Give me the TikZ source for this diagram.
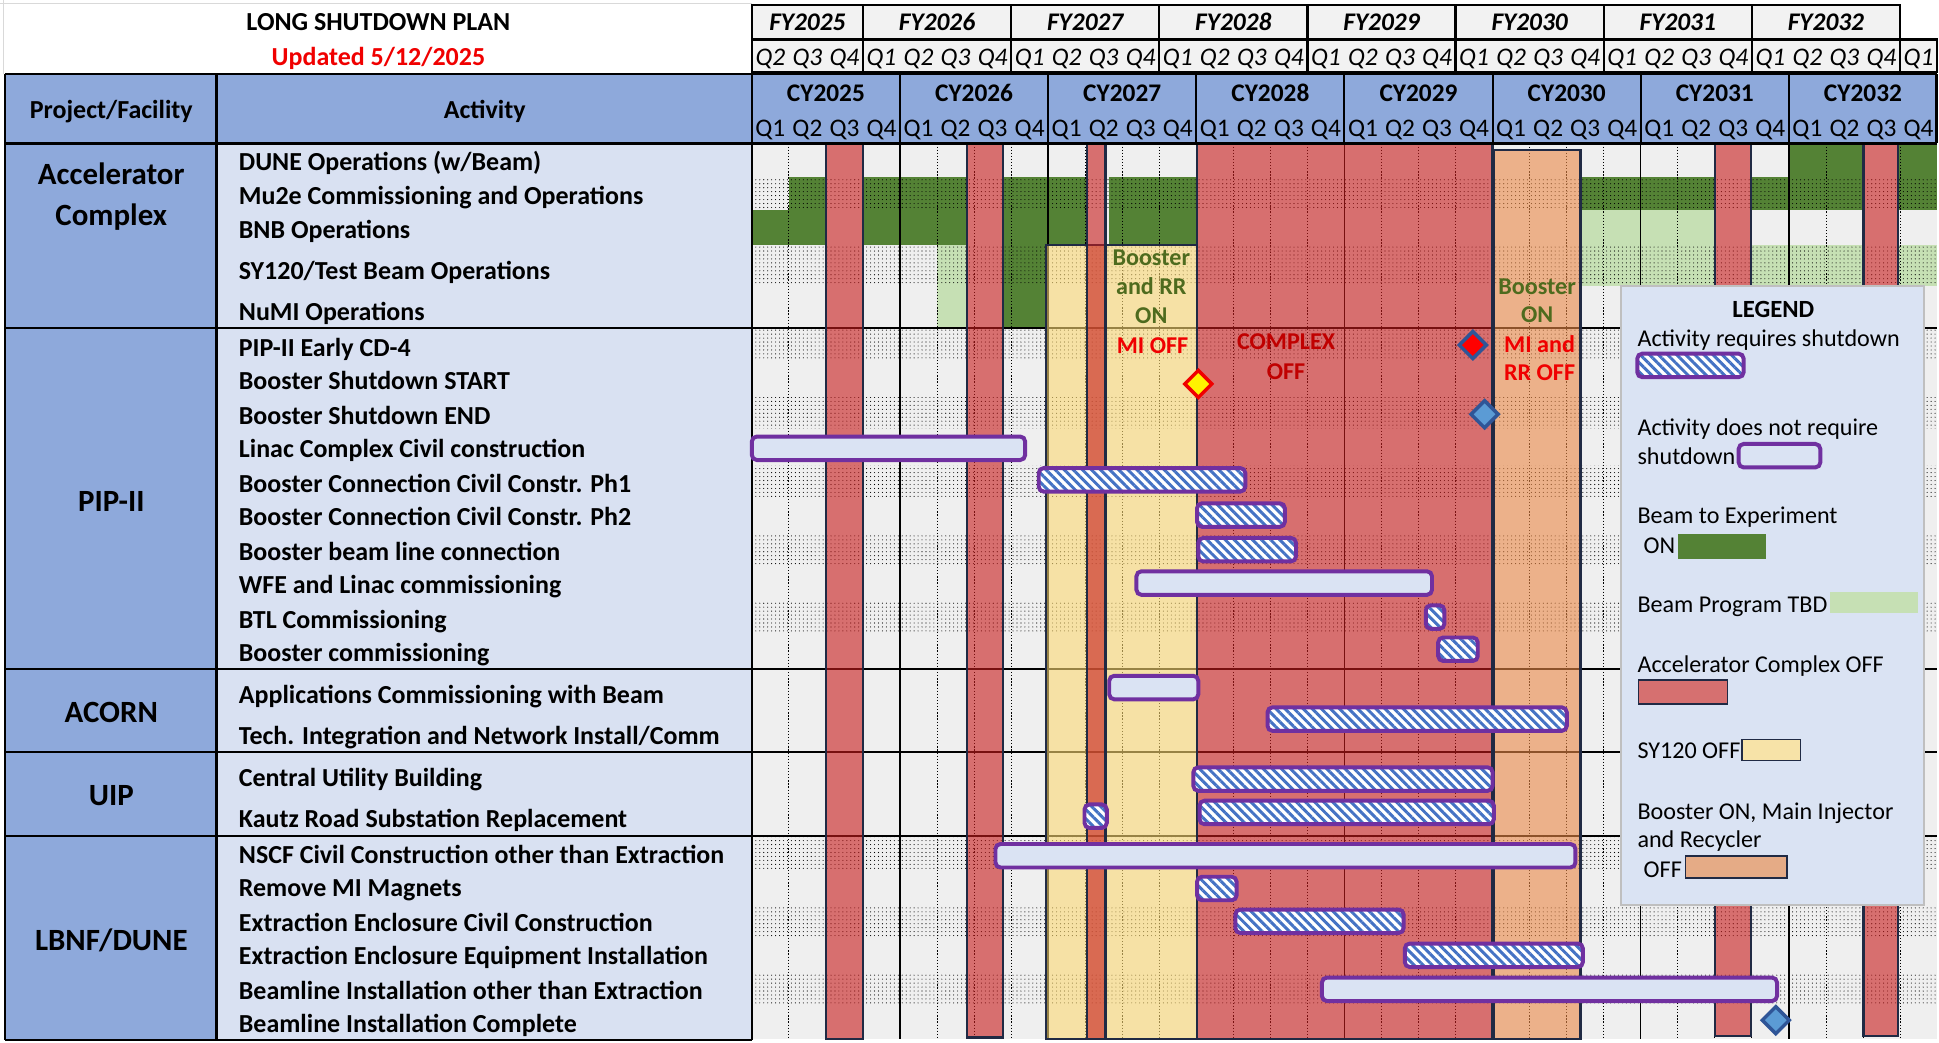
\documentclass[tikz,border=0pt]{standalone}
\usepackage{fontspec}
\setmainfont{Carlito}
\usetikzlibrary{patterns,patterns.meta,shapes.geometric}
\definecolor{hdrblue}{HTML}{8EA9DB}
\definecolor{actbg}{HTML}{D9E1F2}
\definecolor{gridbg}{HTML}{EFEFEF}
\definecolor{fyfill}{HTML}{F2F2F2}
\definecolor{beamon}{HTML}{548235}
\definecolor{beamtbd}{HTML}{C6E0B4}
\definecolor{offred}{RGB}{199,27,27}
\definecolor{offyel}{RGB}{252,217,116}
\definecolor{offora}{RGB}{234,137,71}
\definecolor{navy}{RGB}{32,42,68}
\definecolor{barpur}{HTML}{7030A0}
\definecolor{barfill}{HTML}{DAE3F3}
\definecolor{hatchblue}{HTML}{4472C4}
\definecolor{olivetxt}{RGB}{78,107,30}
\definecolor{legred}{RGB}{214,112,112}
\definecolor{legyel}{RGB}{247,227,168}
\definecolor{legora}{RGB}{229,171,134}
\definecolor{legbg}{HTML}{DAE3F3}
\definecolor{diablue}{HTML}{2F5597}
\definecolor{dialight}{HTML}{5B9BD5}
\definecolor{brightred}{RGB}{240,0,0}
\definecolor{darkred}{RGB}{192,0,0}
\newcommand\myfs[1]{\fontsize{#1}{#1}\selectfont}
\newcommand\hatchbox[3]{\draw[hatchbar] (#1,{#3-9.5}) rectangle (#2,{#3+9.5});}
\newcommand\plainbox[3]{\draw[plainbar] (#1,{#3-9.5}) rectangle (#2,{#3+9.5});}
\tikzset{
  offzone/.style={fill=#1, fill opacity=0.6, draw=navy, draw opacity=1, line width=1.8pt},
  hatchbar/.style={draw=barpur, line width=3.2pt, rounded corners=4pt, preaction={fill=white},
     pattern={Lines[angle=-45,distance=5.2pt,line width=2.4pt]}, pattern color=hatchblue},
  plainbar/.style={draw=barpur, line width=3.2pt, rounded corners=4pt, fill=barfill},
  stip/.style={pattern={Dots[radius=0.45pt,distance=3.2pt]}, pattern color=black},
  acttxt/.style={anchor=base west, inner sep=0pt, font=\myfs{21}\bfseries},
  projtxt/.style={anchor=base, inner sep=0pt, font=\myfs{25}\bfseries},
  hdrtxt/.style={anchor=base, inner sep=0pt, font=\myfs{21}\bfseries},
  cytxt/.style={anchor=base, inner sep=0pt, font=\myfs{20.5}\bfseries},
  qtxt/.style={anchor=base, inner sep=0pt, font=\myfs{20.5}},
  ovtxt/.style={anchor=base, inner sep=0pt, font=\myfs{19.5}\bfseries},
  legtxt/.style={anchor=base west, inner sep=0pt, font=\myfs{19.5}},
  legbox/.style={draw=navy, line width=1.5pt},
  mile/.style={diamond, aspect=1, inner sep=0pt, minimum width=23pt, minimum height=23pt, line width=2.8pt},
}
\begin{document}
\begin{tikzpicture}[x=1pt,y=-1pt]
\useasboundingbox (0,0) rectangle (1568,843);
\fill[white] (0,0) rectangle (1568,843);
\def\qw{29.95}
% faint spreadsheet lines
\draw[black!15, line width=0.6pt] (0,3) -- (608,3);
\draw[black!15, line width=0.6pt] (3,0) -- (3,60);
% left columns
\fill[hdrblue] (4,60) rectangle (175,841);
\fill[actbg] (175,116) rectangle (608,841);
% timeline background
\fill[gridbg] (608,116) rectangle (1566,840);
% beam ON (dark green)
\foreach \a/\b in {638/668,698/782,811/879,897/968,1278/1387,1416/1507,1535/1566}
  \fill[beamon] (\a,143) rectangle (\b,170);
\foreach \a/\b in {608/668,698/782,811/879,897/968}
  \fill[beamon] (\a,170) rectangle (\b,198);
\foreach \a/\b in {1446/1507,1535/1566}
  \fill[beamon] (\a,116) rectangle (\b,143);
\fill[beamon] (811,198) rectangle (846,265);
% beam program TBD (light green)
\fill[beamtbd] (1278,170) rectangle (1387,198);
\foreach \a/\b in {1278/1387,1416/1507,1535/1566}
  \fill[beamtbd] (\a,198) rectangle (\b,231);
\fill[beamtbd] (758,198) rectangle (782,265);
% stippled rows
\foreach \a/\b in {144/169,199/230,266.5/291.5,321.5/346.5,376.5/402,432/457,487/512,677.5/702,732/757,786.5/811.5}
  \fill[stip] (610,\a) rectangle (1566,\b);
% quarter and year grid
\foreach \q in {1,...,31}
  \draw[black, line width=0.7pt, dash pattern=on 1pt off 1.5pt] ({608+\qw*\q},116) -- ({608+\qw*\q},840);
\foreach \q in {4,8,...,28}
  \draw[black, line width=1.2pt] ({608+\qw*\q},116) -- ({608+\qw*\q},840);
% section lines
\foreach \y in {265,541,608,676}
  \draw[black, line width=1.6pt] (4,\y) -- (1566,\y);
% shutdown zones
\draw[offzone=offyel] (846,198) rectangle (968,840);
\draw[offzone=offred] (879,116) rectangle (894,840);
\draw[offzone=offred] (668,116) rectangle (698,840);
\draw[offzone=offred] (782,116) rectangle (811,839);
\draw[offzone=offred] (968,116) rectangle (1207,840);
\draw[offzone=offora] (1208,121) rectangle (1278,840);
\draw[offzone=offred] (1387,116) rectangle (1416,838);
\draw[offzone=offred] (1507,116) rectangle (1535,838);
% FY header
\draw[fill=fyfill, line width=1.8pt] (608,4) rectangle ({608+3*\qw},32);
\draw[fill=fyfill, line width=1.8pt] (608,32) rectangle ({608+3*\qw},58);
\node[cytxt, font=\myfs{20.5}\bfseries\itshape] (fy2025) at ({608+1.5*\qw},25) {FY2025};
\foreach \k [count=\i from 0] in {2026,...,2032}{
  \draw[fill=fyfill, line width=1.8pt] ({608+\qw*(3+4*\i)},4) rectangle ({608+\qw*(7+4*\i)},32);
  \draw[fill=fyfill, line width=1.8pt] ({608+\qw*(3+4*\i)},32) rectangle ({608+\qw*(7+4*\i)},58);
  \node[cytxt, font=\myfs{20.5}\bfseries\itshape] (fy\k) at ({608+\qw*(5+4*\i)},25) {FY\k};
}
\draw[fill=fyfill, line width=1.8pt] ({608+31*\qw},32) rectangle ({608+32*\qw},58);
\foreach \q in {0,...,31}{
  \pgfmathtruncatemacro\fq{mod(\q+1,4)+1}
  \node[qtxt, font=\myfs{20.5}\itshape] (fq\q) at ({608+\qw*(\q+0.5)},53) {Q\fq};
}
% CY header
\fill[hdrblue] (4,60) rectangle (1566,116);
\foreach \q in {4,8,...,28}
  \draw[black, line width=1.6pt] ({608+\qw*\q},60) -- ({608+\qw*\q},116);
\foreach \k [count=\i from 0] in {2025,...,2032}
  \node[cytxt] (cy\k) at ({608+\qw*(2+4*\i)},82) {CY\k};
\foreach \q in {0,...,31}{
  \pgfmathtruncatemacro\cq{mod(\q,4)+1}
  \node[qtxt] (cq\q) at ({608+\qw*(\q+0.5)},110) {Q\cq};
}
% table frame
\draw[black, line width=2pt] (4,60) -- (1566,60);
\draw[black, line width=2pt] (4,116) -- (1566,116);
\draw[black, line width=2pt] (1566,60) -- (1566,116);
\draw[black, line width=2pt] (4,60) -- (4,841);
\draw[black, line width=2pt] (175,60) -- (175,841);
\draw[black, line width=2pt] (608,4) -- (608,841);
\draw[black, line width=2pt] (4,841) -- (608,841);
% title
\node[hdrtxt] (title) at (306,25) {LONG SHUTDOWN PLAN};
\node[hdrtxt, text=brightred] (updated) at (306,53) {Updated 5/12/2025};
\node[hdrtxt] (hproj) at (90,96) {Project/Facility};
\node[hdrtxt] (hact) at (392,96) {Activity};
% project labels
\node[projtxt] (pacc1) at (90,149.5) {Accelerator};
\node[projtxt] (pacc2) at (90,182) {Complex};
\node[projtxt] (ppip) at (90,413.5) {PIP-II};
\node[projtxt] (pacorn) at (90,584.5) {ACORN};
\node[projtxt] (puip) at (90,651.5) {UIP};
\node[projtxt] (plbnf) at (90,768.5) {LBNF/DUNE};
% activities
\node[acttxt] (a1) at (193,138) {DUNE Operations (w/Beam)};
\node[acttxt] (a2) at (193,165) {Mu2e Commissioning and Operations};
\node[acttxt] (a3) at (193,193) {BNB Operations};
\node[acttxt] (a4) at (193,226) {SY120/Test Beam Operations};
\node[acttxt] (a5) at (193,259) {NuMI Operations};
\node[acttxt] (b1) at (193,288) {PIP-II Early CD-4};
\node[acttxt] (b2) at (193,315) {Booster Shutdown START};
\node[acttxt] (b3) at (193,343) {Booster Shutdown END};
\node[acttxt] (b4) at (193,370) {Linac Complex Civil construction};
\node[acttxt] (b5) at (193,398) {Booster Connection Civil Constr. Ph1};
\node[acttxt] (b6) at (193,425) {Booster Connection Civil Constr. Ph2};
\node[acttxt] (b7) at (193,453) {Booster beam line connection};
\node[acttxt] (b8) at (193,480) {WFE and Linac commissioning};
\node[acttxt] (b9) at (193,508) {BTL Commissioning};
\node[acttxt] (b10) at (193,535) {Booster commissioning};
\node[acttxt] (c1) at (193,569) {Applications Commissioning with Beam};
\node[acttxt] (c2) at (193,602) {Tech. Integration and Network Install/Comm};
\node[acttxt] (d1) at (193,636) {Central Utility Building};
\node[acttxt] (d2) at (193,669) {Kautz Road Substation Replacement};
\node[acttxt] (e1) at (193,698) {NSCF Civil Construction other than Extraction};
\node[acttxt] (e2) at (193,725) {Remove MI Magnets};
\node[acttxt] (e3) at (193,753) {Extraction Enclosure Civil Construction};
\node[acttxt] (e4) at (193,780) {Extraction Enclosure Equipment Installation};
\node[acttxt] (e5) at (193,808) {Beamline Installation other than Extraction};
\node[acttxt] (e6) at (193,835) {Beamline Installation Complete};
% zone labels
\node[ovtxt, text=olivetxt] (z1) at (931,215) {Booster};
\node[ovtxt, text=olivetxt] (z2) at (931,238) {and RR};
\node[ovtxt, text=olivetxt] (z3) at (931,262) {ON};
\node[ovtxt, text=brightred] (z4) at (932,286) {MI OFF};
\node[ovtxt, text=darkred] (z5) at (1040,283) {COMPLEX};
\node[ovtxt, text=darkred] (z6) at (1040,307) {OFF};
\node[ovtxt, text=olivetxt] (z7) at (1243,238) {Booster};
\node[ovtxt, text=olivetxt] (z8) at (1243,261) {ON};
\node[ovtxt, text=brightred] (z9) at (1245,285) {MI and};
\node[ovtxt, text=brightred] (z10) at (1245,308) {RR OFF};
% activity bars
\plainbox{608}{829}{362.5}
\hatchbox{840}{1007}{388}
\hatchbox{968}{1039}{416.5}
\hatchbox{969}{1048}{444.5}
\plainbox{919}{1158}{471.5}
\hatchbox{1153}{1168}{499}
\hatchbox{1163}{1195}{525}
\plainbox{897}{969}{556}
\hatchbox{1025}{1267}{581.5}
\hatchbox{965}{1207}{630}
\hatchbox{877}{895}{660}
\hatchbox{970}{1208}{657}
\plainbox{805}{1274}{692}
\hatchbox{968}{1000}{718.5}
\hatchbox{999}{1135}{745}
\hatchbox{1136}{1280}{772.5}
\plainbox{1069}{1437}{800}
% milestones
\node[mile, fill=yellow, draw=brightred] (mstart) at (969,310.5) {};
\node[mile, fill=red, draw=diablue] (mcd4) at (1191,279) {};
\node[mile, fill=dialight, draw=diablue] (mend) at (1200.5,335) {};
\node[mile, fill=dialight, draw=diablue] (mdone) at (1436,825) {};
% legend
\draw[fill=legbg, draw=black!25, line width=1.5pt] (1311,231) rectangle (1556,732);
\node[anchor=base, inner sep=0pt, font=\myfs{20}\bfseries] (lg0) at (1434,256.5) {LEGEND};
\node[legtxt] (lg1) at (1324,280.5) {Activity requires shutdown};
\draw[hatchbar] (1324,286) rectangle (1410,305);
\node[legtxt] (lg2) at (1324,352.5) {Activity does not require};
\node[legtxt] (lg3) at (1324,375.5) {shutdown};
\draw[plainbar] (1406,359) rectangle (1472,378);
\node[legtxt] (lg4) at (1324,423.5) {Beam to Experiment};
\node[legtxt] (lg5) at (1329,447.5) {ON};
\fill[beamon] (1357,432) rectangle (1428,452);
\node[legtxt] (lg6) at (1324,495.5) {Beam Program TBD};
\fill[beamtbd] (1480,479) rectangle (1551,496);
\node[legtxt] (lg7) at (1324,543.5) {Accelerator Complex OFF};
\draw[legbox, fill=legred] (1325,550) rectangle (1397,569);
\node[legtxt] (lg8) at (1324,613.5) {SY120 OFF};
\draw[legbox, fill=legyel] (1409,598) rectangle (1456,615);
\node[legtxt] (lg9) at (1324,662.5) {Booster ON, Main Injector};
\node[legtxt] (lg10) at (1324,685.5) {and Recycler};
\node[legtxt] (lg11) at (1329,709.5) {OFF};
\draw[legbox, fill=legora] (1363,692) rectangle (1445,710);
\end{tikzpicture}
\end{document}
